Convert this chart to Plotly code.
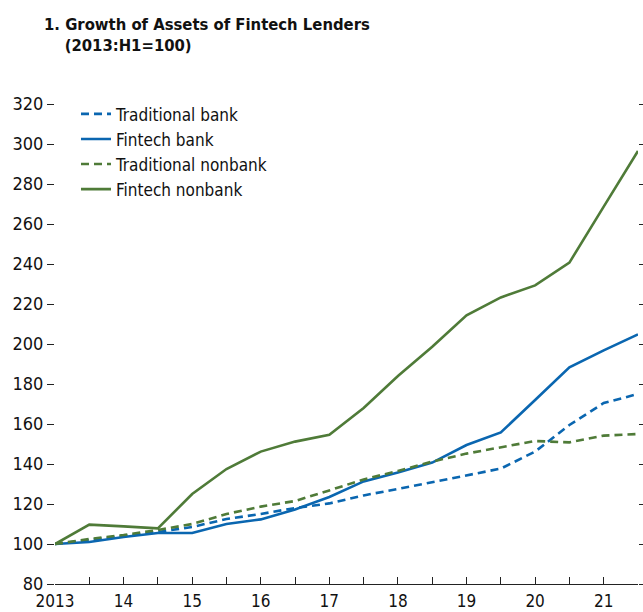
import plotly.graph_objects as go

# Half-year periods, 2013:H1 through 2021:H2
periods = [2013 + 0.5 * i for i in range(18)]

traditional_bank = [100, 102, 104, 106, 108.5, 112.5, 115, 118, 120.3, 124.3,
                    127.5, 130.8, 134.2, 137.7, 146.2, 159.5, 170.5, 175]
fintech_bank = [100, 101, 103.5, 105.5, 105.5, 110, 112.3, 117.3, 123.5, 131.3,
                135.8, 140.7, 149.5, 155.8, 172, 188.3, 196.8, 204.8]
traditional_nonbank = [100, 102.5, 104.5, 107, 110, 115, 118.7, 121.5, 126.8, 132.3,
                       136.5, 141.2, 145.2, 148.3, 151.5, 150.8, 154.2, 155]
fintech_nonbank = [100, 109.7, 108.8, 107.8, 125, 137.5, 146.2, 151.2, 154.6, 168,
                   184, 198.6, 214.3, 223.3, 229.3, 240.7, 268.7, 296.5]

x_tick_vals = list(range(2013, 2022))
x_tick_text = ["2013", "14", "15", "16", "17", "18", "19", "20", "21"]
y_tick_vals = list(range(80, 321, 20))

BLUE = "#0a66b0"
GREEN = "#4f7b38"
FONT = "Liberation Sans Narrow, DejaVu Sans Condensed, Arial Narrow, sans-serif"

series = [
    ("Traditional bank", traditional_bank, BLUE, "8px,5px"),
    ("Fintech bank", fintech_bank, BLUE, "solid"),
    ("Traditional nonbank", traditional_nonbank, GREEN, "8px,5px"),
    ("Fintech nonbank", fintech_nonbank, GREEN, "solid"),
]

fig = go.Figure()
for name, vals, color, dash in series:
    fig.add_trace(go.Scatter(
        x=periods, y=vals, name=name, mode="lines",
        line=dict(color=color, width=2.6, dash=dash),
    ))

fig.update_layout(
    width=643, height=612,
    margin=dict(l=55, r=5, t=104, b=28),
    paper_bgcolor="white", plot_bgcolor="white",
    font=dict(family=FONT, size=18, color="#111111"),
    showlegend=True,
    legend=dict(
        x=0.036, y=1.016, xanchor="left", yanchor="top",
        bgcolor="rgba(0,0,0,0)", font=dict(size=17),
        tracegroupgap=0, itemwidth=30,
    ),
)

fig.add_annotation(
    text="<b>1. Growth of Assets of Fintech Lenders</b><br><b>    (2013:H1=100)</b>",
    xref="paper", yref="paper", x=-0.022, y=1.19,
    xanchor="left", yanchor="top", align="left", showarrow=False,
    font=dict(family=FONT, size=16.5, color="#111111"),
)

fig.update_xaxes(
    range=[2013, 2021.5],
    tickvals=x_tick_vals, ticktext=x_tick_text,
    tickfont=dict(size=17),
    ticks="inside", ticklen=7, tickwidth=1.3, tickcolor="#222222",
    ticklabelstandoff=1, automargin=False,
    minor=dict(dtick=0.5, tick0=2013, ticks="inside", ticklen=7,
               tickwidth=1.3, tickcolor="#222222"),
    showline=True, linecolor="#222222", linewidth=1.3,
    showgrid=False, zeroline=False,
)
fig.update_yaxes(
    range=[80, 320],
    tickvals=y_tick_vals, automargin=False,
    ticks="outside", ticklen=7, tickwidth=1.3, tickcolor="#222222",
    mirror="ticks", showline=False,
    showgrid=False, zeroline=False,
)

fig.write_html("out.html")
